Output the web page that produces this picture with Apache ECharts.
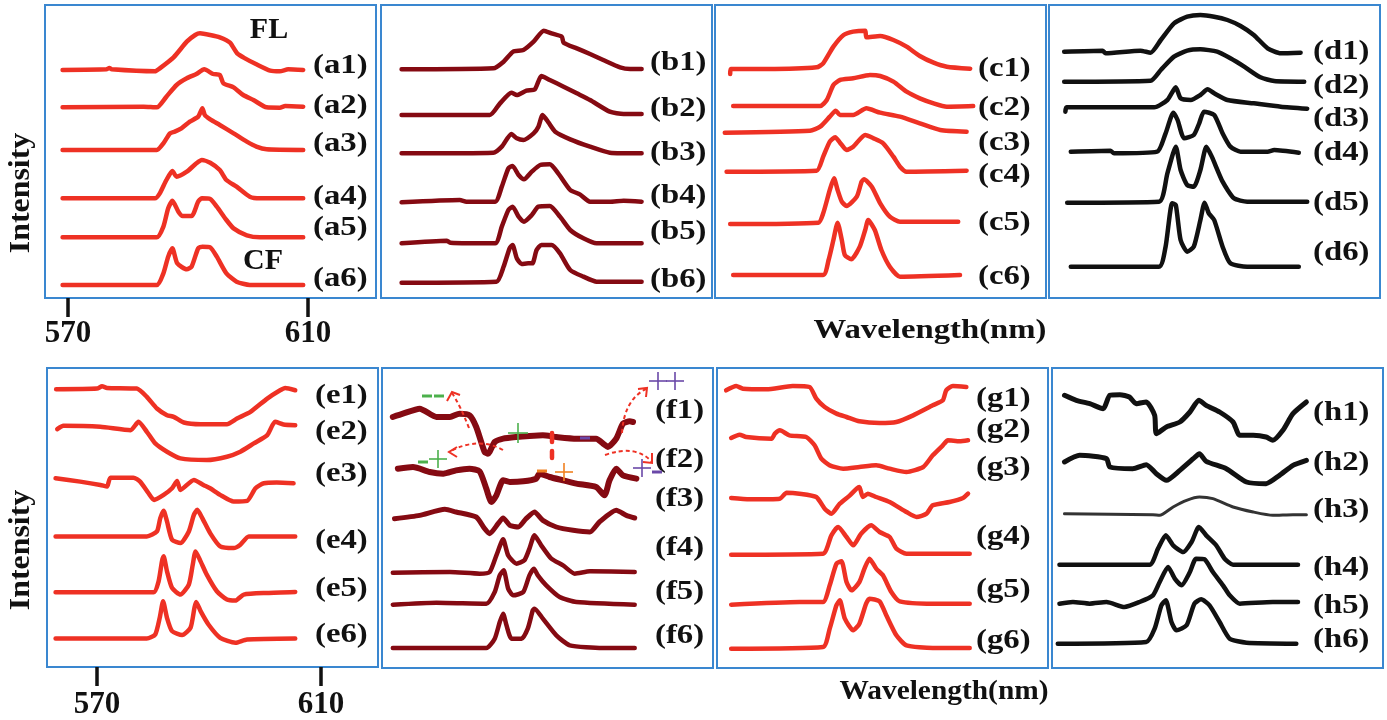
<!DOCTYPE html>
<html>
<head>
<meta charset="utf-8">
<script src="https://cdn.jsdelivr.net/npm/echarts@6/dist/echarts.min.js"></script>
<style>
html,body{margin:0;padding:0;background:#fff}
#chart{width:1387px;height:720px}
</style>
</head>
<body>
<div id="chart"></div>
<script>
// spectra, [wavelength nm, intensity a.u. (offset stacked)]
var a1=[[569.1,684],[576.4,686],[576.9,690],[577.3,686],[584.5,680],[585.3,689],[587.6,722],[589.8,769],[591.2,789],[592.0,794],[593.7,789],[595.3,782],[597.0,766],[598.2,734],[599.5,719],[601.4,701],[603.7,682],[605.3,680],[606.7,686],[609.2,684]];
var a2=[[569.1,572],[582.6,574],[584.8,572],[586.4,604],[588.1,639],[589.8,659],[591.4,672],[592.7,686],[594.2,672],[595.3,669],[595.9,644],[597.6,632],[599.2,609],[600.9,594],[603.1,572],[605.3,571],[606.2,576],[609.2,574]];
var a3=[[569.1,444],[584.8,444],[585.9,464],[587.0,494],[587.8,499],[588.9,509],[590.3,529],[591.7,544],[592.4,569],[592.8,549],[593.7,536],[595.3,519],[597.6,494],[599.8,469],[601.4,454],[603.1,446],[609.2,444]];
var a4=[[569.1,299],[584.5,299],[585.3,314],[586.4,354],[587.4,381],[588.1,364],[589.8,379],[591.4,404],[592.3,414],[593.7,406],[595.3,384],[596.4,354],[598.1,334],[600.3,304],[602.0,299],[609.2,299]];
var a5=[[569.1,182],[584.8,182],[585.9,214],[586.7,269],[587.4,292],[588.4,259],[589.1,246],[590.6,246],[591.7,289],[592.3,299],[593.7,297],[594.8,274],[596.4,234],[597.6,209],[599.8,188],[602.0,182],[609.2,182]];
var a6=[[569.1,39],[584.8,39],[585.9,74],[586.7,124],[587.4,149],[588.2,104],[589.8,86],[590.6,94],[591.7,149],[592.4,154],[593.7,152],[594.8,124],[596.4,74],[598.1,49],[600.3,39],[609.2,39]];

var b1=[[569.6,686],[584.9,689],[586.6,709],[588.2,739],[589.9,744],[591.6,769],[593.3,802],[594.6,794],[596.3,784],[596.6,766],[598.8,749],[601.0,732],[603.2,714],[606.0,692],[607.7,687],[609.6,687]];
var b2=[[569.6,549],[584.3,549],[586.0,584],[587.9,616],[588.8,609],[590.4,622],[591.8,626],[592.9,666],[594.3,654],[596.6,634],[598.8,614],[601.0,594],[604.3,559],[606.6,552],[609.6,552]];
var b3=[[569.6,434],[584.9,436],[586.3,454],[587.9,492],[588.8,479],[589.9,474],[591.6,494],[592.4,514],[593.1,549],[594.1,526],[595.2,499],[597.7,476],[601.0,454],[604.3,436],[609.6,434]];
var b4=[[569.6,287],[579.3,294],[580.4,289],[585.2,289],[586.3,334],[587.4,389],[588.1,396],[589.1,369],[590.0,356],[591.3,379],[592.7,399],[594.3,401],[595.7,374],[597.7,324],[599.3,311],[601.0,289],[604.3,289],[606.6,292],[609.6,289]];
var b5=[[569.6,164],[577.1,172],[577.7,166],[585.2,164],[586.3,214],[587.4,264],[588.1,274],[589.1,244],[590.0,229],[591.3,249],[592.4,274],[594.3,276],[596.0,244],[597.7,204],[599.9,179],[602.1,164],[609.6,164]];
var b6=[[569.6,46],[585.4,49],[586.6,94],[587.6,149],[588.1,159],[588.8,119],[589.6,102],[590.7,104],[591.4,104],[592.1,144],[592.9,159],[594.6,159],[596.0,134],[597.7,84],[599.9,64],[602.1,49],[609.6,49]];

var c1=[[568.7,672],[568.8,687],[574.8,687],[583.1,692],[584.2,704],[585.9,754],[587.6,789],[589.2,799],[591.2,802],[591.4,782],[593.7,786],[595.9,774],[598.1,754],[600.3,726],[602.6,706],[604.8,694],[608.7,688]];
var c2=[[569.2,576],[583.7,576],[584.8,594],[585.9,639],[587.0,654],[589.2,659],[592.0,669],[593.7,666],[595.9,649],[598.1,619],[600.3,599],[602.6,584],[604.8,574],[609.2,576]];
var c3=[[567.8,496],[582.0,502],[583.7,514],[585.3,544],[586.3,562],[587.0,549],[589.2,549],[591.4,569],[593.7,556],[597.0,544],[600.3,524],[603.7,504],[608.1,499]];
var c4=[[568.1,379],[583.1,382],[584.2,424],[585.3,469],[586.2,482],[587.0,466],[588.1,444],[589.2,454],[591.2,489],[592.6,479],[594.2,464],[595.9,424],[597.0,394],[598.1,379],[608.1,382]];
var c5=[[568.7,222],[583.4,226],[584.2,254],[585.3,324],[586.0,359],[586.6,324],[587.3,289],[588.1,276],[589.8,304],[590.6,349],[591.0,356],[592.3,334],[593.7,284],[595.3,244],[597.0,229],[606.7,229]];
var c6=[[569.2,69],[584.2,69],[585.1,114],[585.9,174],[586.6,226],[587.3,174],[587.8,129],[588.9,116],[590.3,154],[591.2,204],[591.7,234],[592.8,204],[593.9,144],[595.3,94],[597.0,64],[607.0,69]];

var d1=[[568.7,739],[575.1,742],[575.6,734],[581.4,742],[583.1,736],[584.8,774],[587.0,824],[589.2,844],[591.4,849],[593.7,844],[595.9,834],[598.1,816],[600.3,789],[602.6,749],[604.8,734],[608.1,736]];
var d2=[[568.7,649],[583.1,652],[584.8,684],[587.0,724],[589.2,742],[591.4,746],[594.2,739],[596.4,719],[598.7,694],[601.4,662],[603.7,651],[608.7,649]];
var d3=[[568.9,559],[569.1,572],[583.7,572],[585.9,594],[587.3,632],[588.1,599],[589.8,594],[591.4,609],[592.6,626],[593.7,614],[595.9,594],[600.3,584],[604.8,574],[609.2,568]];
var d4=[[569.8,439],[576.4,442],[577.0,434],[584.2,439],[585.6,494],[586.9,556],[587.6,534],[588.7,479],[590.3,489],[591.2,524],[592.0,559],[593.7,549],[595.1,494],[596.4,454],[598.1,439],[602.6,439],[603.7,444],[607.8,436]];
var d5=[[569.2,286],[584.5,289],[585.9,374],[587.3,454],[588.1,384],[589.2,339],[590.3,334],[591.4,384],[592.4,454],[593.3,424],[595.1,349],[597.0,299],[599.2,289],[609.2,289]];
var d6=[[569.8,94],[584.5,94],[585.6,154],[586.7,284],[587.3,279],[588.1,174],[589.2,139],[590.3,154],[591.4,234],[592.1,286],[592.8,254],[593.7,234],[595.1,154],[596.4,104],[599.2,94],[607.8,94]];

var e1=[[562.7,836],[570.0,838],[570.9,845],[571.8,840],[577.1,838],[578.9,813],[580.7,778],[582.5,758],[583.7,753],[585.5,736],[588.5,731],[593.2,731],[595.0,748],[597.4,768],[600.4,808],[602.7,833],[603.6,840],[605.4,833]];
var e2=[[562.9,716],[564.0,726],[570.6,723],[576.0,713],[577.4,738],[578.9,708],[580.4,673],[582.5,648],[584.9,628],[589.6,623],[593.2,633],[595.6,648],[598.0,673],[600.4,698],[601.8,738],[603.3,730],[605.4,728]];
var e3=[[562.6,568],[567.0,558],[570.6,548],[571.8,543],[572.4,570],[576.5,570],[577.7,558],[579.2,523],[580.2,503],[581.9,518],[583.4,538],[584.3,560],[584.9,533],[587.3,563],[589.0,548],[590.2,538],[592.0,518],[594.4,498],[596.8,500],[598.3,538],[599.8,553],[602.1,555],[605.1,553]];
var e4=[[562.6,393],[578.9,393],[580.7,408],[581.3,448],[581.9,470],[582.5,438],[583.4,383],[584.9,373],[586.4,408],[587.3,458],[587.9,473],[588.8,448],[590.2,403],[592.0,363],[594.4,358],[595.6,368],[597.1,393],[605.4,393]];
var e5=[[562.6,225],[580.1,225],[581.0,258],[581.6,318],[581.9,333],[582.5,288],[583.4,238],[584.9,218],[586.4,248],[587.1,308],[587.6,348],[588.5,318],[589.6,278],[591.4,228],[593.2,203],[594.7,200],[596.2,218],[600.4,223],[605.4,226]];
var e6=[[562.6,86],[578.9,86],[580.4,98],[581.2,148],[581.8,198],[582.5,148],[583.4,108],[585.2,96],[586.7,118],[587.4,178],[587.7,196],[588.5,168],[589.9,128],[592.0,88],[594.7,73],[596.8,83],[605.4,86]];

var f1=[[563.0,753],[564.8,763],[567.8,778],[570.8,753],[573.2,753],[574.9,763],[576.7,758],[577.9,723],[579.4,648],[580.0,643],[581.2,678],[582.7,688],[585.1,693],[587.4,696],[589.8,698],[592.2,693],[595.8,688],[599.3,688],[600.8,670],[601.4,663],[602.9,688],[604.1,733],[605.3,740],[605.9,738]];
var f2=[[563.9,598],[566.6,603],[569.6,588],[572.0,583],[574.3,593],[576.7,598],[578.5,590],[579.7,538],[580.6,498],[581.5,518],[582.7,563],[583.9,558],[586.3,560],[588.6,568],[589.2,583],[591.0,573],[593.4,563],[595.8,553],[599.3,543],[600.8,518],[601.7,563],[602.9,598],[604.1,578],[606.5,568]];
var f3=[[563.3,448],[567.8,458],[572.3,476],[574.3,468],[577.9,453],[579.4,418],[580.3,403],[581.8,433],[582.7,450],[583.9,428],[585.4,423],[586.8,448],[588.3,468],[589.8,443],[592.2,423],[595.2,413],[598.2,408],[599.9,438],[602.9,473],[604.7,458],[606.2,450]];
var f4=[[563.0,286],[573.2,288],[578.5,283],[580.3,288],[581.5,338],[582.7,386],[583.6,338],[585.1,313],[586.5,323],[587.4,358],[588.3,398],[589.5,368],[591.3,328],[593.4,308],[595.5,283],[598.2,290],[606.2,288]];
var f5=[[563.0,190],[570.8,196],[579.7,193],[581.2,228],[582.1,278],[582.8,293],[583.6,238],[584.5,218],[586.3,228],[587.4,278],[588.2,298],[588.9,278],[590.4,248],[592.8,213],[595.8,198],[606.2,190]];
var f6=[[563.0,60],[579.7,60],[581.2,88],[582.1,138],[582.7,163],[583.3,128],[584.2,88],[586.0,88],[587.1,118],[588.0,173],[588.3,178],[589.8,148],[592.2,98],[594.6,68],[600.5,60],[606.2,60]];

var g1=[[562.7,833],[564.5,846],[565.7,838],[569.9,836],[574.6,846],[577.6,843],[578.8,808],[580.3,783],[582.4,763],[584.2,753],[586.5,740],[590.1,735],[593.1,738],[596.1,758],[599.6,788],[601.4,803],[602.0,833],[603.2,846],[605.6,843]];
var g2=[[563.6,690],[565.1,700],[566.3,693],[570.8,688],[571.4,703],[572.3,713],[574.0,698],[577.0,693],[578.5,668],[579.7,628],[581.2,608],[583.6,598],[586.5,603],[589.5,608],[591.9,598],[594.9,588],[597.9,603],[599.6,638],[601.4,668],[602.3,683],[604.4,680],[605.9,683]];
var g3=[[563.6,510],[566.9,506],[572.3,508],[573.5,526],[575.8,523],[578.8,513],[580.3,478],[581.5,463],[583.0,493],[584.8,518],[586.0,538],[586.5,543],[587.1,513],[588.0,523],[589.5,513],[591.9,498],[594.9,468],[596.7,453],[598.5,463],[599.6,488],[602.6,498],[605.0,510],[605.9,523]];
var g4=[[563.6,340],[580.0,343],[581.5,398],[582.7,423],[584.2,393],[585.4,368],[586.8,403],[588.6,428],[590.1,408],[591.9,393],[593.1,358],[594.9,343],[606.2,343]];
var g5=[[563.6,190],[575.8,198],[580.0,198],[581.2,248],[582.4,313],[583.3,320],[584.2,258],[585.1,233],[586.5,258],[587.4,298],[588.3,328],[589.5,298],[590.7,278],[592.2,228],[593.7,200],[599.6,193],[606.2,193]];
var g6=[[563.6,58],[580.0,63],[581.2,118],[582.4,188],[583.0,203],[583.9,148],[585.4,113],[586.5,133],[587.7,193],[588.3,208],[590.1,200],[591.3,158],[593.1,98],[594.9,68],[599.6,60],[606.2,60]];

var h1=[[563.3,818],[565.4,803],[567.8,793],[570.2,778],[571.4,818],[573.2,820],[574.9,813],[576.1,793],[577.9,798],[579.4,758],[579.7,703],[581.5,723],[583.9,738],[585.7,768],[587.3,803],[588.6,788],[591.0,768],[593.4,738],[594.6,698],[597.0,698],[599.3,693],[600.5,683],[602.3,713],[604.1,763],[606.5,798]];
var h2=[[563.3,618],[566.0,638],[570.8,628],[571.4,603],[575.5,598],[577.9,610],[579.7,583],[581.5,563],[583.9,593],[586.3,628],[587.4,643],[588.6,620],[592.2,598],[595.8,558],[599.3,553],[601.7,578],[604.1,608],[606.5,623]];
var h3=[[563.3,463],[579.1,460],[580.3,458],[582.7,483],[585.1,503],[587.4,513],[589.8,508],[593.4,483],[597.0,468],[600.5,458],[604.1,460],[606.5,460]];
var h4=[[562.4,310],[578.5,310],[580.0,358],[581.4,398],[582.7,368],[584.5,348],[586.0,378],[587.3,423],[588.6,398],[590.4,368],[591.9,328],[593.4,310],[605.0,310]];
var h5=[[562.4,193],[564.8,198],[567.8,193],[570.8,198],[574.0,183],[576.7,198],[579.1,218],[580.3,258],[581.8,303],[583.0,268],[584.2,248],[585.7,288],[586.8,328],[588.3,326],[589.8,288],[591.6,248],[592.8,218],[594.6,193],[600.5,198],[605.0,198]];
var h6=[[562.1,73],[577.9,78],[579.4,118],[580.6,188],[581.4,203],[582.4,138],[583.3,113],[585.1,128],[586.5,193],[587.7,206],[589.2,188],[591.0,138],[592.8,88],[595.8,76],[604.7,73]];

var labelsA=['(a1)','(a2)','(a3)','(a4)','(a5)','(a6)'];
var labelsB=['(b1)','(b2)','(b3)','(b4)','(b5)','(b6)'];
var labelsC=['(c1)','(c2)','(c3)','(c4)','(c5)','(c6)'];
var labelsD=['(d1)','(d2)','(d3)','(d4)','(d5)','(d6)'];
var labelsE=['(e1)','(e2)','(e3)','(e4)','(e5)','(e6)'];
var labelsF=['(f1)','(f2)','(f3)','(f4)','(f5)','(f6)'];
var labelsG=['(g1)','(g2)','(g3)','(g4)','(g5)','(g6)'];
var labelsH=['(h1)','(h2)','(h3)','(h4)','(h5)','(h6)'];
var tickValues=[570,610];

var RED='#ee3124', DRED='#850a12', BLK='#111111';
var serif='"Liberation Serif","Times New Roman",serif';

// layout of the 8 boxes
var panels=[
  {curves:[a1,a2,a3,a4,a5,a6],labels:labelsA,color:RED,row:0,left:45,lx:313,ly:[66,106,144,197,228,279],axis:true},
  {curves:[b1,b2,b3,b4,b5,b6],labels:labelsB,color:DRED,row:0,left:381,lx:650,ly:[63,109,153,196,232,280]},
  {curves:[c1,c2,c3,c4,c5,c6],labels:labelsC,color:RED,row:0,left:715,lx:978,ly:[69,108,143,175,223,277]},
  {curves:[d1,d2,d3,d4,d5,d6],labels:labelsD,color:BLK,row:0,left:1049,lx:1313,ly:[52,86,119,153,203,253]},
  {curves:[e1,e2,e3,e4,e5,e6],labels:labelsE,color:RED,row:1,left:47,lx:315,ly:[396,432,474,541,589,635],axis:true},
  {curves:[f1,f2,f3,f4,f5,f6],labels:labelsF,color:DRED,row:1,left:382,lx:655,ly:[411,460,499,548,592,636],widths:[6,6,5,4.5,4.5,4.5]},
  {curves:[g1,g2,g3,g4,g5,g6],labels:labelsG,color:RED,row:1,left:717,lx:976,ly:[399,430,468,537,590,641]},
  {curves:[h1,h2,h3,h4,h5,h6],labels:labelsH,color:BLK,row:1,left:1052,lx:1313,ly:[413,463,510,568,606,640],widths:[5,5,3,4.5,4.5,4.5],colors:[BLK,BLK,'#333',BLK,BLK,BLK]}
];
var rows=[
  {top:5,height:293,ymax:879,xmin:566.17,xmax:621.33,margin:20},
  {top:368,height:300,ymax:900,xmin:561.07,xmax:620.18,margin:22}
];

var grids=[],xAxes=[],yAxes=[],series=[],graphics=[];
panels.forEach(function(p,i){
  var r=rows[p.row];
  grids.push({left:p.left,top:r.top,width:331,height:r.height,show:true,borderColor:'#3a87d0',borderWidth:2,backgroundColor:'transparent'});
  xAxes.push({
    gridIndex:i,type:'value',min:r.xmin,max:r.xmax,show:!!p.axis,
    axisLine:{show:false},splitLine:{show:false},
    axisTick:{show:true,customValues:tickValues,length:19,lineStyle:{color:BLK,width:3.5}},
    axisLabel:{show:true,customValues:tickValues,margin:r.margin,fontFamily:serif,fontWeight:'bold',fontSize:31,color:BLK}
  });
  yAxes.push({gridIndex:i,type:'value',min:0,max:r.ymax,show:false});
  p.curves.forEach(function(c,k){
    series.push({
      type:'line',xAxisIndex:i,yAxisIndex:i,data:c,showSymbol:false,smooth:0.2,silent:true,
      lineStyle:{color:p.colors?p.colors[k]:p.color,width:p.widths?p.widths[k]:4.5,cap:'round',join:'round'}
    });
  });
  p.labels.forEach(function(t,k){
    graphics.push({type:'text',x:p.lx,y:p.ly[k],scaleX:1.17,silent:true,
      style:{text:t,font:'bold 28px '+serif,fill:BLK,align:'left',verticalAlign:'middle'}});
  });
});

function txt(s,x,y,size,sx,rot){
  return {type:'text',x:x,y:y,scaleX:sx,rotation:rot||0,silent:true,
    style:{text:s,font:'bold '+size+'px '+serif,fill:BLK,align:'center',verticalAlign:'middle'}};
}
graphics.push(txt('FL',269,30,30,1));
graphics.push(txt('CF',263,261,30,1));
graphics.push(txt('Wavelength(nm)',930,331,28,1.17));
graphics.push(txt('Wavelength(nm)',944,692,28,1.05));
graphics.push(txt('Intensity',22,193,29,1.1,Math.PI/2));
graphics.push(txt('Intensity',22,550,29,1.1,Math.PI/2));

// annotations in panel f
function plus(x,y,s,c){
  return [{type:'line',silent:true,shape:{x1:x-s,y1:y,x2:x+s,y2:y},style:{stroke:c,lineWidth:1.6}},
          {type:'line',silent:true,shape:{x1:x,y1:y-s,x2:x,y2:y+s},style:{stroke:c,lineWidth:1.6}}];
}
function minus(x,y,w,c){
  return {type:'line',silent:true,shape:{x1:x-w,y1:y,x2:x+w,y2:y},style:{stroke:c,lineWidth:3}};
}
function arrow(x1,y1,cx,cy,x2,y2,head){
  return [{type:'bezierCurve',silent:true,shape:{x1:x1,y1:y1,cpx1:cx,cpy1:cy,x2:x2,y2:y2},style:{stroke:'#ee3124',lineWidth:2,lineDash:[4,3],fill:null}},
          {type:'polyline',silent:true,shape:{points:head},style:{stroke:'#ee3124',lineWidth:2,fill:null}}];
}
var GRN='#4cb04c',ORG='#f08020',PUR='#6a48a8';
var ann=[].concat(
  minus(427,396,5,GRN),minus(439,396,5,GRN),
  plus(518,433,10,GRN),
  minus(423,462,5,GRN),plus(438,459,9,GRN),
  minus(542,471,5,ORG),plus(564,472,9,ORG),
  minus(585,438,5,PUR),
  plus(658,381,9,PUR),plus(675,381,9,PUR),
  plus(642,468,9,PUR),minus(657,472,5,PUR),
  {type:'line',silent:true,shape:{x1:552,y1:433,x2:552,y2:442},style:{stroke:'#ee3124',lineWidth:4.5,lineCap:'round'}},
  {type:'line',silent:true,shape:{x1:552,y1:451,x2:552,y2:458},style:{stroke:'#ee3124',lineWidth:4.5,lineCap:'round'}},
  arrow(469,428,460,405,452,393,[[447,401],[452,392],[460,395]]),
  arrow(503,450,478,436,449,452,[[457,447],[449,452],[457,457]]),
  arrow(622,433,624,400,646,389,[[638,389],[647,388],[646,397]]),
  arrow(605,455,636,444,652,462,[[652,453],[652,463],[643,462]])
);
ann.forEach(function(g){g.z=100;graphics.push(g);});

var chart=echarts.init(document.getElementById('chart'),null,{renderer:'canvas'});
chart.setOption({
  animation:false,
  backgroundColor:'#fff',
  grid:grids,xAxis:xAxes,yAxis:yAxes,series:series,
  graphic:{elements:graphics}
});
</script>
</body>
</html>
